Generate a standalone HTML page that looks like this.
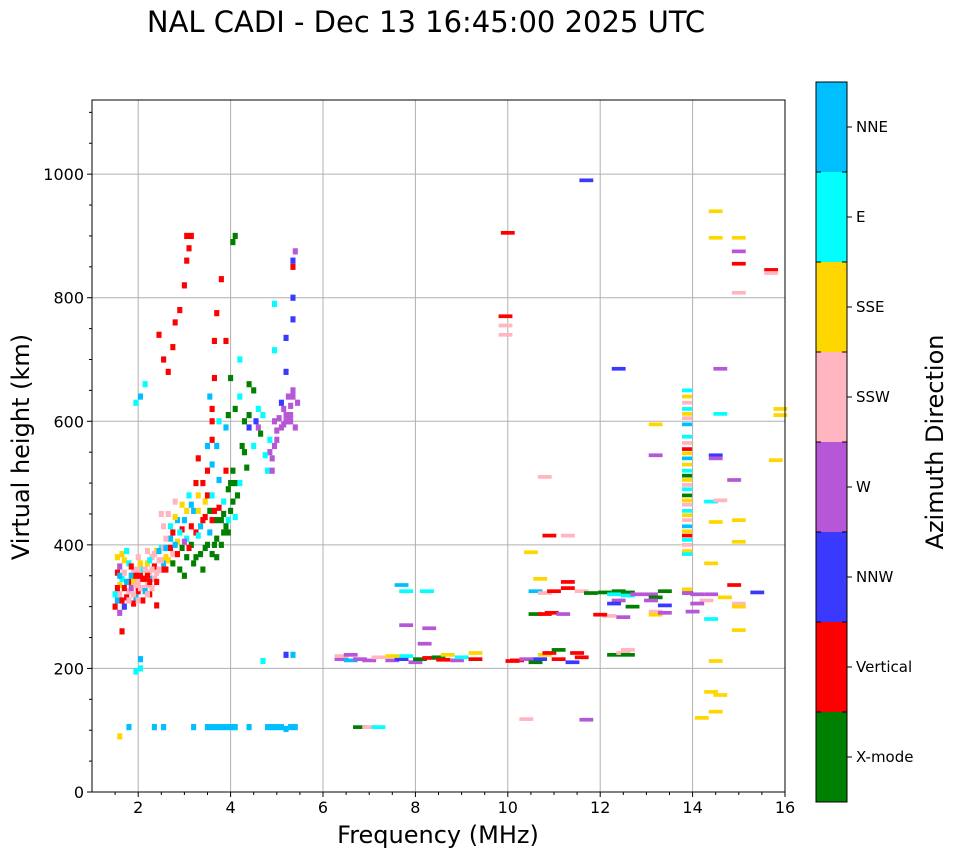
<!DOCTYPE html>
<html><head><meta charset="utf-8">
<style>
html,body{margin:0;padding:0;background:#fff;}
svg{display:block;font-family:"DejaVu Sans","Liberation Sans",sans-serif;}
</style></head>
<body>
<svg id="chart" width="958" height="857" viewBox="0 0 958 857">
<text x="426" y="32" font-size="29" text-anchor="middle">NAL CADI - Dec 13 16:45:00 2025 UTC</text>
<g id="grid"></g>
<g id="marks"></g>
<rect x="92" y="100" width="693" height="692" fill="none" stroke="#000" stroke-width="1"/>
<g id="axes"></g>
<text x="438" y="843" font-size="24" text-anchor="middle">Frequency (MHz)</text>
<text transform="translate(29,447) rotate(-90)" font-size="24" text-anchor="middle">Virtual height (km)</text>
<g id="cbar"></g>
<text transform="translate(943,442) rotate(-90)" font-size="24" text-anchor="middle">Azimuth Direction</text>
</svg>
<script>
const categories = ["X-mode","Vertical","NNW","W","SSW","SSE","E","NNE"];
const catColors = ["#008000","#ff0000","#3a3aff","#b657d8","#ffb6c1","#ffd700","#00ffff","#00bfff"];
const xTicks = [2,4,6,8,10,12,14,16];
const yTicks = [0,200,400,600,800,1000];
// echoes: [frequency MHz, virtual height km, category index]
const echoes = [
[1.5,300,1],[1.55,310,7],[1.6,320,4],[1.6,335,5],[1.65,345,6],[1.55,355,1],[1.6,365,3],[1.7,375,5],[1.7,300,2],[1.75,315,1],[1.8,325,4],[1.8,340,1],[1.85,350,7],[1.9,360,4],[1.9,305,1],[1.95,315,7],[2.0,325,1],[2.0,340,4],[2.05,350,1],[2.1,330,4],[2.1,360,6],[2.15,345,1],[2.2,335,4],[2.2,370,5],[2.25,355,4],[2.3,345,7],[2.3,380,4],[2.35,365,1],[2.4,390,5],[2.4,355,4],[2.45,375,4],[2.5,360,1],[2.5,395,6],[2.55,370,7],[1.65,385,5],[1.75,390,6],[2.0,380,4],[1.5,320,6],[1.85,330,3],[2.25,320,1],[2.4,302,1],[1.6,290,3],[1.7,330,1],[1.9,340,5],[2.1,310,1],[2.3,330,4],[2.0,360,4],[1.8,370,6],[2.35,345,4],[2.2,350,1],[1.65,260,1],
[1.55,330,1],[1.6,350,7],[1.65,310,1],[1.7,355,4],[1.75,340,7],[1.8,310,4],[1.85,365,1],[1.9,320,4],[1.95,335,4],[1.95,350,1],[2.0,310,4],[2.05,330,4],[2.05,370,5],[2.1,345,1],[2.15,325,7],[2.15,360,4],[2.2,320,4],[2.25,340,1],[2.25,375,6],[2.3,360,4],[2.35,385,4],[2.4,340,1],[2.45,360,4],[2.45,390,7],[2.5,375,4],[2.55,395,4],[2.6,360,1],[2.6,395,7],[2.65,375,5],[2.7,410,7],[2.75,385,4],[2.75,420,1],[2.85,405,5],[2.85,440,7],[2.95,395,0],[2.95,425,1],[3.05,410,6],[3.05,455,5],[3.15,400,0],[3.15,465,7],[3.25,420,1],[3.25,380,0],[3.35,430,7],[3.45,395,0],[3.45,445,1],[3.55,455,0],[3.65,400,0],[3.7,440,0],[3.75,460,1],[3.85,420,0],[3.85,450,0],[3.95,440,6],[4.05,470,0],[4.1,500,0],[3.4,500,1],[3.3,480,5],[3.5,480,1],[3.6,530,7],[3.6,570,1],[2.2,390,4],[1.55,380,5],[2.55,430,4],
[2.6,380,5],[2.6,410,4],[2.7,395,1],[2.7,430,6],[2.75,370,0],[2.8,400,7],[2.8,445,5],[2.85,385,1],[2.9,420,6],[2.9,360,0],[2.95,465,5],[3.0,405,3],[3.0,440,7],[3.05,380,0],[3.1,395,1],[3.1,480,6],[3.15,430,1],[3.2,370,0],[3.2,455,7],[3.25,500,1],[3.3,415,6],[3.35,385,0],[3.4,440,1],[3.45,470,5],[3.5,400,0],[3.5,520,1],[3.55,420,7],[3.6,480,6],[3.6,385,0],[3.65,455,1],[3.7,410,0],[3.75,505,7],[3.8,440,0],[3.85,470,6],[3.9,430,0],[3.95,490,0],[4.0,455,0],[4.05,520,0],[4.1,445,6],[4.15,480,0],[2.65,450,4],[2.5,450,4],[2.8,470,4],[3.3,540,1],[3.5,560,7],[3.6,600,1],[3.55,640,7],[3.6,620,1],[3.65,670,1],[3.7,560,7],[3.75,600,6],[3.9,590,7],[3.95,610,0],[4.0,670,0],[4.1,620,0],[4.2,640,6],[4.2,700,6],[4.4,660,0],[4.5,650,0],[4.6,620,6],[4.65,580,0],[4.4,590,2],[4.8,520,6],[4.85,570,6],[4.9,540,3],[4.95,600,3],[5.0,570,3],[5.1,590,3],[5.15,620,3],[5.2,600,3],[5.25,640,3],[5.3,610,3],[5.35,650,3],[5.4,590,3],[5.45,630,3],[5.1,630,2],[5.2,680,2],[4.7,610,6],[4.5,560,6],[4.3,550,0],[4.35,525,0],[4.2,500,6],[4.0,500,0],[3.9,520,1],[3.7,380,0],[3.8,400,0],[3.95,420,0],[3.4,360,0],[3.0,350,0],[3.6,440,1],[3.3,455,5],
[5.2,610,3],[5.25,600,3],[5.3,625,3],[5.15,595,3],[5.05,605,3],[5.0,585,3],[4.95,560,3],[4.85,550,3],[4.9,520,3],[4.75,545,6],[4.6,590,3],[4.55,600,2],[5.35,640,3],[5.3,600,3],[4.4,610,0],[4.3,600,0],[4.25,560,0],
[2.45,740,1],[2.55,700,1],[2.65,680,1],[2.75,720,1],[2.8,760,1],[2.9,780,1],[3.0,820,1],[3.05,860,1],[3.1,880,1],[3.05,900,1],[3.15,900,1],[3.7,775,1],[3.8,830,1],[3.9,730,1],[3.65,730,1],[4.1,900,0],[4.05,890,0],[5.35,860,2],[5.35,850,1],[5.4,875,3],[5.35,800,2],[5.35,765,2],[5.2,735,2],[4.95,790,6],[4.95,715,6],[2.15,660,6],[1.95,630,6],[2.05,640,7],
[1.6,90,5],[1.8,105,7],[2.35,105,7],[2.55,105,7],[3.2,105,7],[3.5,105,7],[3.6,105,7],[3.7,105,7],[3.8,105,7],[3.9,105,7],[4.0,105,7],[4.1,105,7],[4.4,105,7],[4.8,105,7],[4.9,105,7],[5.0,105,7],[5.1,105,7],[5.2,102,7],[5.3,105,7],[5.4,105,7],[6.8,105,0],[7.0,105,4],[7.2,105,6],
[1.95,195,6],[2.05,200,6],[2.05,215,7],[4.7,212,6],[5.2,222,2],[5.35,222,7],
[6.4,215,3],[6.4,220,4],[6.6,213,7],[6.6,222,3],[6.8,215,3],[7.0,213,3],[7.2,218,4],[7.5,213,3],[7.7,215,2],[7.8,220,6],[7.5,220,5],[8.0,210,3],[8.1,215,0],[8.3,217,1],[8.5,218,0],[8.6,214,1],[8.7,222,5],[8.9,213,3],[9.0,218,6],[9.3,215,1],[9.3,225,5],[8.2,240,3],[8.3,265,3],[7.8,270,3],[7.7,335,7],[7.8,325,6],[8.25,325,6],
[10.2,213,1],[10.4,215,3],[10.6,210,0],[10.7,215,2],[10.8,222,5],[10.9,225,1],[11.1,230,0],[11.1,215,1],[11.4,210,2],[11.5,225,1],[11.6,218,1],[12.3,222,0],[12.5,225,4],[12.6,222,0],[10.6,325,7],[10.8,322,4],[11.0,325,1],[11.3,330,1],[11.6,325,4],[11.8,322,0],[12.1,323,0],[12.4,325,0],[12.6,323,0],[12.3,320,6],[12.4,310,3],[12.6,318,6],[12.8,320,3],[13.1,320,3],[13.2,315,0],[13.4,325,0],[13.4,302,2],[13.1,310,3],[10.6,288,0],[10.8,288,1],[10.95,290,1],[11.2,288,3],[12.7,300,0],[12.3,305,2],[12.2,285,4],[12.5,283,3],[13.2,292,4],[13.2,287,5],[13.4,290,3],[13.9,322,0],[14.1,320,3],[14.4,320,3],[14.3,310,4],[14.1,305,3],[14.4,280,6],[14.0,292,3],[14.9,335,1],[15.0,305,4],[15.0,300,5],[15.4,323,2],[14.7,315,5],[10.1,212,1],
[10.9,415,1],[10.8,510,4],[11.3,415,4],[10.5,388,5],[10.7,345,5],[11.3,340,1],[11.7,990,2],[10.0,905,1],[9.95,770,1],[9.95,755,4],[9.95,740,4],[12.4,685,2],[13.2,595,5],[13.2,545,3],[14.5,545,2],[14.5,540,3],[14.6,685,3],[14.6,612,6],[14.4,470,6],[14.6,472,4],[14.5,437,5],[14.4,370,5],[14.9,505,3],[15.0,440,5],[15.0,405,5],[15.0,262,5],[14.5,212,5],[14.4,162,5],[14.5,130,5],[14.6,157,5],[14.2,120,5],[14.5,940,5],[14.5,897,5],[15.0,897,5],[15.0,855,1],[15.0,875,3],[15.0,808,4],[15.7,845,1],[15.7,840,4],[15.9,620,5],[15.9,610,5],[15.8,537,5],[10.4,118,4],[11.7,117,3],[12.6,230,4],[12.0,287,1],
[13.88,650,6],[13.88,640,5],[13.88,630,4],[13.88,620,6],[13.88,612,5],[13.88,605,4],[13.88,595,7],[13.88,575,6],[13.88,565,4],[13.88,555,1],[13.88,548,5],[13.88,540,7],[13.88,530,5],[13.88,520,6],[13.88,512,0],[13.88,505,5],[13.88,497,4],[13.88,490,6],[13.88,480,0],[13.88,472,5],[13.88,465,4],[13.88,455,6],[13.88,448,5],[13.88,440,4],[13.88,430,7],[13.88,422,5],[13.88,415,1],[13.88,408,6],[13.88,400,4],[13.88,390,5],[13.88,385,6],[13.88,328,5],[13.88,322,3]
];
const NS="http://www.w3.org/2000/svg";
const X0=92,X1=785,Y0=792,Y1=100, FMIN=1,FMAX=16,HMIN=0,HMAX=1120;
function xs(f){return X0+(f-FMIN)/(FMAX-FMIN)*(X1-X0);}
function ys(h){return Y0-(h-HMIN)/(HMAX-HMIN)*(Y0-Y1);}
function mk(tag,attrs,parent){const e=document.createElementNS(NS,tag);for(const k in attrs)e.setAttribute(k,attrs[k]);parent.appendChild(e);return e;}
const grid=document.getElementById('grid'),axes=document.getElementById('axes'),marks=document.getElementById('marks'),cbar=document.getElementById('cbar');
xTicks.forEach(t=>{const x=xs(t);
 const l=mk('line',{x1:x,x2:x,y1:Y1,y2:Y0,stroke:'#b0b0b0','stroke-width':1},grid);
 
 
 mk('line',{x1:x,x2:x,y1:Y0,y2:Y0+5,stroke:'#000'},axes);
 const tx=mk('text',{x:x,y:Y0+21,'font-size':16,'text-anchor':'middle'},axes);tx.textContent=t;
 
 
});
for(let f=1.5;f<16;f+=0.5){if(Math.abs(f-Math.round(f/2)*2)<0.01)continue;const x=xs(f);mk('line',{x1:x,x2:x,y1:Y0,y2:Y0+3,stroke:'#000'},axes);}
yTicks.forEach(t=>{const y=ys(t);
 if(t>0){const l=mk('line',{x1:X0,x2:X1,y1:y,y2:y,stroke:'#b0b0b0','stroke-width':1},grid);
 
 }
 mk('line',{x1:X0-5,x2:X0,y1:y,y2:y,stroke:'#000'},axes);
 const tx=mk('text',{x:X0-8,y:y+6,'font-size':16,'text-anchor':'end'},axes);tx.textContent=t;
 
 
});
for(let h=50;h<1120;h+=50){if(h%200===0)continue;const y=ys(h);mk('line',{x1:X0-3,x2:X0,y1:y,y2:y,stroke:'#000'},axes);}
echoes.forEach(d=>{const f=d[0],h=d[1],c=d[2];
 const low=f<6;
 const w=low?0.11:(f>13.8&&f<13.95?0.22:0.3);
 const dh=low?5:3;
 const x=xs(f-w/2), wx=xs(f+w/2)-xs(f-w/2);
 const y=ys(h+dh), hy=ys(h-dh)-ys(h+dh);
 const r=mk('rect',{x:x,y:y,width:wx,height:hy,fill:catColors[c]},marks);
 
 
});
const CB0=82,CB1=802,CBX=816,CBW=31,band=(CB1-CB0)/categories.length;
categories.forEach((c,i)=>{const y=CB1-(i+1)*band;
 const r=mk('rect',{x:CBX,y:y,width:CBW,height:band,fill:catColors[i]},cbar);
 
 
 const cy=y+band/2;
 mk('line',{x1:CBX+CBW,x2:CBX+CBW+5,y1:cy,y2:cy,stroke:'#000'},cbar);
 const t=mk('text',{x:CBX+CBW+9,y:cy+5,'font-size':15},cbar);t.textContent=c;
 
 
});
for(let i=0;i<=categories.length;i++){const y=CB0+i*band;mk('line',{x1:CBX+CBW-5,x2:CBX+CBW,y1:y,y2:y,stroke:'#000'},cbar);mk('line',{x1:CBX,x2:CBX+5,y1:y,y2:y,stroke:'#000'},cbar);}
mk('rect',{x:CBX,y:CB0,width:CBW,height:CB1-CB0,fill:'none',stroke:'#000'},cbar);
</script>
</body></html>
